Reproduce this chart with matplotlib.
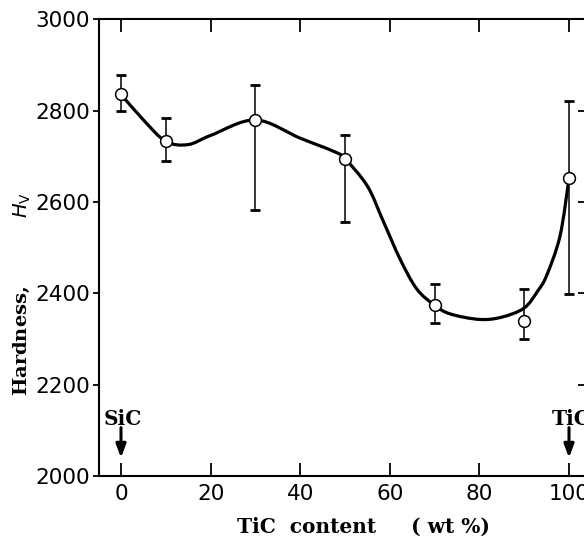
import numpy as np
import matplotlib.pyplot as plt
from matplotlib.path import Path
from matplotlib.patches import PathPatch

# measured points with error bars
tic = [0, 10, 30, 50, 70, 90, 100]
hv = [2836, 2733, 2780, 2695, 2374, 2339, 2652]
hv_hi = [2879, 2784, 2857, 2746, 2420, 2410, 2822]
hv_lo = [2800, 2691, 2582, 2556, 2335, 2300, 2398]

# hand drawn trend curve
curve_x = [0, 5, 10, 15, 20, 30, 40, 47.5, 50, 55, 58.5, 62.3, 66,
           70, 73.5, 80, 85, 90, 93, 95, 98, 100]
curve_y = [2836, 2780, 2733, 2726, 2746, 2780, 2740, 2711, 2695, 2635,
           2559, 2475, 2410, 2374, 2355, 2343, 2348, 2368, 2405, 2439, 2526,
           2652]

x_ticks = [0, 20, 40, 60, 80, 100]
y_ticks = [2000, 2200, 2400, 2600, 2800, 3000]


def smooth_path(xs, ys):
    # catmull-rom through the read points, as cubic bezier segments
    p = np.column_stack([xs, ys]).astype(float)
    p = np.vstack([p[0], p, p[-1]])
    verts = [p[1]]
    codes = [Path.MOVETO]
    for i in range(1, len(p) - 2):
        c1 = p[i] + (p[i + 1] - p[i - 1]) / 6
        c2 = p[i + 1] - (p[i + 2] - p[i]) / 6
        verts += [c1, c2, p[i + 1]]
        codes += [Path.CURVE4] * 3
    return Path(verts, codes)


fig = plt.figure(figsize=(5.84, 5.4), dpi=100)
ax = fig.add_axes([98.6 / 584, 0.1185, 492.8 / 584, 0.8454])

ax.add_patch(PathPatch(smooth_path(curve_x, curve_y), fill=False,
                       lw=2.3, color="black", zorder=3))

err = [np.array(hv) - np.array(hv_lo), np.array(hv_hi) - np.array(hv)]
ax.errorbar(tic, hv, yerr=err, fmt="none", ecolor="black", elinewidth=1.1,
            capsize=3.5, capthick=2, zorder=2)
ax.plot(tic, hv, "o", ms=8.5, mfc="white", mec="black", mew=1.1, zorder=4)

ax.set_xlim(-5, 105)
ax.set_ylim(2000, 3000)
ax.set_xticks(x_ticks)
ax.set_yticks(y_ticks)

for s in ax.spines.values():
    s.set_linewidth(1.5)

ax.tick_params(axis="x", which="both", direction="in", length=9.5, width=1.3,
               top=True, labelsize=15.5, pad=6)
ax.tick_params(axis="y", which="both", direction="out", length=4.5,
               width=1.3, labelsize=15.5, pad=1.5)
# right side ticks point inward
ax2 = ax.secondary_yaxis("right")
ax2.set_yticks(y_ticks)
ax2.tick_params(direction="in", length=9.5, width=1.3, labelright=False)

# end member markers
for xv, name in [(0, "SiC"), (100, "TiC")]:
    ax.annotate("", xy=(xv, 2040), xytext=(xv, 2106),
                arrowprops=dict(arrowstyle="-|>,head_width=0.3,head_length=0.8",
                                lw=2.2, color="black", shrinkA=0, shrinkB=0))
    ax.text(xv + 0.5, 2124, name, ha="center", va="center", fontsize=14.5,
            fontweight="bold", family="DejaVu Serif")

fig.text(363 / 584, 0.024, "TiC  content     ( wt %)", ha="center",
         va="center", fontsize=14.5, fontweight="bold", family="DejaVu Serif")
fig.text(22 / 584, 0.455, r"Hardness,          $\mathit{H}_{\mathrm{V}}$",
         rotation=90, ha="center", va="center", fontsize=14,
         fontweight="bold", family="DejaVu Serif")

fig.savefig("out.png", dpi=100)
